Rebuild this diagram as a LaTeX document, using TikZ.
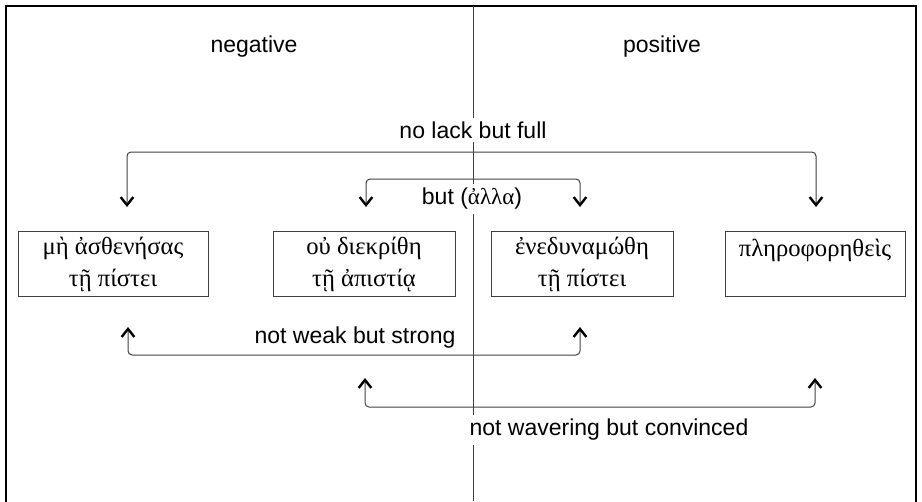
\documentclass[tikz,border=0pt]{standalone}
\usepackage{fontspec}
\setmainfont{Liberation Sans}
\newfontfamily\greek{Liberation Serif}
\usepackage{tikz}
\usetikzlibrary{calc,positioning,arrows.meta}
\definecolor{linegray}{HTML}{404040}
\tikzset{
lbl/.style={font=\fontsize{17.25}{21}\selectfont, fill=white, inner sep=3pt},
grkbox/.style={draw=linegray, line width=0.75pt, font=\greek\fontsize{18.5}{24}\selectfont, align=center, minimum height=48.75pt, inner sep=2pt},
tipv/.tip={Straight Barb[length=6pt,width=9.5pt,line width=1.8pt,color=black]},
link/.style={draw=linegray, line width=0.75pt, rounded corners=3pt, tipv-tipv}
}

\begin{document}
\begin{tikzpicture}[x=0.75pt, y=-0.75pt]
  \useasboundingbox (0,0) rectangle (922,501);
  \draw[line width=1.6pt] (6,520) -- (6,6) -- (916,6) -- (916,520);
  \draw[linegray, line width=0.75pt] (473,6) -- (473,501);
  \node (neg) at (254,47) [lbl] {negative};
  \node (pos) at (662,47) [lbl] {positive};
  % the four participles
  \node (b1) at (113,264) [grkbox, minimum width=142.5pt] {μὴ ἀσθενήσας\\τῇ πίστει};
  \node (b2) at (364,264) [grkbox, minimum width=136.5pt] {οὐ διεκρίθη\\τῇ ἀπιστίᾳ};
  \node (b3) at (582,264) [grkbox, minimum width=136.5pt] {ἐνεδυναμώθη\\τῇ πίστει};
  \node (b4) at (815,264) [grkbox, minimum width=135pt] {πληροφορηθεὶς\\~};
  % bracket ends
  \coordinate (fullL) at (127,207);
  \coordinate (fullR) at (816,207);
  \coordinate (butL) at (366,207);
  \coordinate (butR) at (580,207);
  \coordinate (weakL) at (128,327);
  \coordinate (weakR) at (580,327);
  \coordinate (convL) at (365,378);
  \coordinate (convR) at (815,378);
  \draw[link] (fullL) -- ++(0,-55) -| (fullR);
  \draw[link] (butL) -- ++(0,-28) -| (butR);
  \draw[link] (weakL) -- ++(0,28) -| (weakR);
  \draw[link] (convL) -- ++(0,29) -| (convR);
  \node (full) at (473,130) [lbl] {no lack but full};
  \node (but) at (472,199) [lbl] {but ({\greek ἀλλα})};
  \node (weak) at (355,338) [lbl] {not weak but strong};
  \node (conv) at (609,430) [lbl] {not wavering but convinced};
\end{tikzpicture}
\end{document}
